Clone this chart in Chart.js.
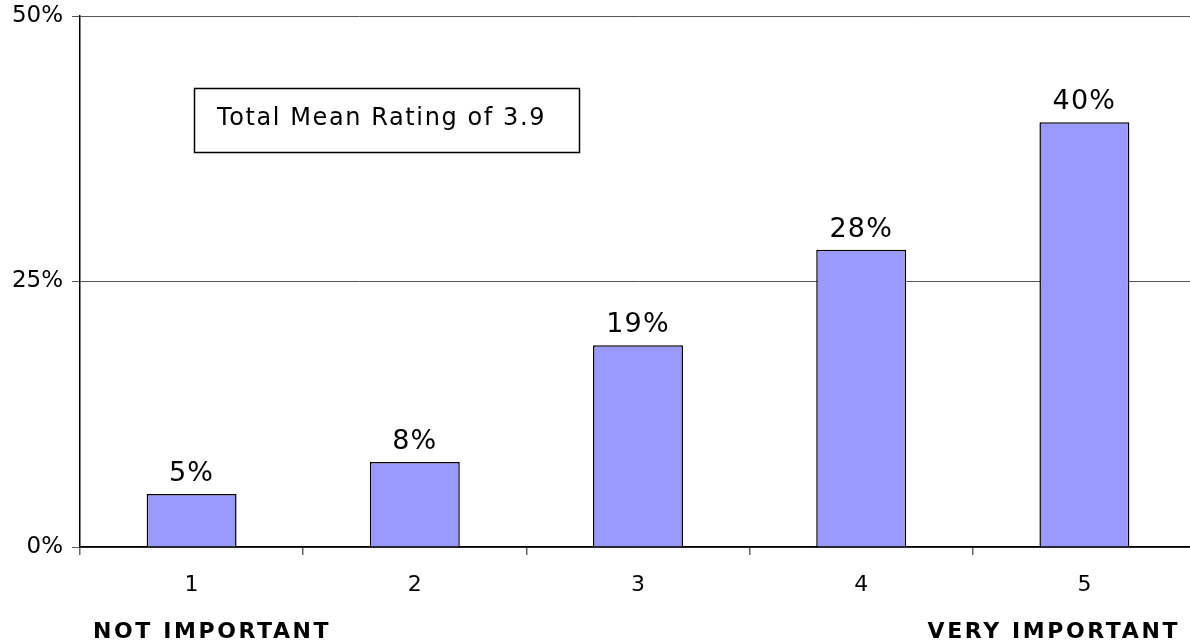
<!DOCTYPE html>
<html>
<head>
<meta charset="utf-8">
<script src="https://cdn.jsdelivr.net/npm/chart.js@4/dist/chart.umd.min.js"></script>
<style>
  html, body { margin: 0; padding: 0; background: #fff; overflow: hidden; }
  #wrap { width: 1196px; height: 642px; position: relative; }
</style>
</head>
<body>
<div id="wrap"><canvas id="c"></canvas></div>
<script>
// Ratings and share of respondents choosing each one
const categories = ['1', '2', '3', '4', '5'];
const shares = [5, 8, 19, 28, 40];
const yTicks = [0, 25, 50];
const endLabels = ['NOT IMPORTANT', 'VERY IMPORTANT'];
const noteText = 'Total Mean Rating of 3.9';

const FONT = '"DejaVu Sans", Verdana, sans-serif';

// Percent labels above each bar
const valueLabels = {
  id: 'valueLabels',
  afterDatasetsDraw(chart) {
    const ctx = chart.ctx;
    const meta = chart.getDatasetMeta(0);
    ctx.save();
    ctx.font = '27px ' + FONT;
    ctx.letterSpacing = '1.2px';
    ctx.fillStyle = '#000';
    ctx.textAlign = 'center';
    ctx.textBaseline = 'alphabetic';
    meta.data.forEach((bar, i) => {
      ctx.fillText(shares[i] + '%', bar.x, bar.y - 13);
    });
    ctx.restore();
  }
};

// Boxed note in the upper left and the scale-end captions
const extras = {
  id: 'extras',
  afterDraw(chart) {
    const ctx = chart.ctx;
    ctx.save();
    // note box
    ctx.fillStyle = '#fff';
    ctx.fillRect(194, 88, 386, 65);
    ctx.strokeStyle = '#000';
    ctx.lineWidth = 1.5;
    ctx.strokeRect(194.5, 88.5, 385, 64);
    ctx.fillStyle = '#000';
    ctx.font = '24px ' + FONT;
    ctx.letterSpacing = '1.6px';
    ctx.textAlign = 'left';
    ctx.textBaseline = 'alphabetic';
    ctx.fillText(noteText, 217, 125);
    // scale-end captions
    ctx.font = 'bold 22px ' + FONT;
    ctx.letterSpacing = '2.6px';
    ctx.textAlign = 'left';
    ctx.fillText(endLabels[0], 93, 638);
    ctx.textAlign = 'right';
    ctx.fillText(endLabels[1], 1180, 638);
    ctx.restore();
  }
};

new Chart(document.getElementById('c'), {
  type: 'bar',
  data: {
    labels: categories,
    datasets: [{
      data: shares,
      backgroundColor: '#9999FF',
      borderColor: '#000',
      borderWidth: 1.5,
      barPercentage: 0.403,
      categoryPercentage: 1.0
    }]
  },
  options: {
    responsive: true,
    maintainAspectRatio: false,
    animation: false,
    devicePixelRatio: 1,
    layout: { padding: { top: 16, right: 0, left: 0, bottom: 0 } },
    plugins: {
      legend: { display: false },
      tooltip: { enabled: false }
    },
    scales: {
      x: {
        offset: true,
        grid: {
          display: true,
          offset: true,
          drawOnChartArea: false,
          drawTicks: true,
          tickLength: 8,
          color: '#666',
          lineWidth: 1.5
        },
        border: { display: true, color: '#000', width: 1.5 },
        ticks: {
          color: '#000',
          font: { family: FONT, size: 22 },
          padding: 17
        },
        afterFit(scale) {
          scale.height = 95;
          scale.paddingLeft = 0;
          scale.paddingRight = 0;
        }
      },
      y: {
        min: 0,
        max: 50,
        afterBuildTicks(scale) { scale.ticks = yTicks.map(v => ({ value: v })); },
        grid: {
          color: '#555',
          lineWidth: 1,
          tickLength: 8,
          drawTicks: true
        },
        border: { display: true, color: '#000', width: 1.5 },
        ticks: {
          color: '#000',
          font: { family: FONT, size: 23 },
          padding: 9,
          callback: v => v + '%'
        },
        afterFit(scale) {
          scale.width = 80;
          scale.paddingTop = 0;
          scale.paddingBottom = 0;
        }
      }
    }
  },
  plugins: [valueLabels, extras]
});
</script>
</body>
</html>
